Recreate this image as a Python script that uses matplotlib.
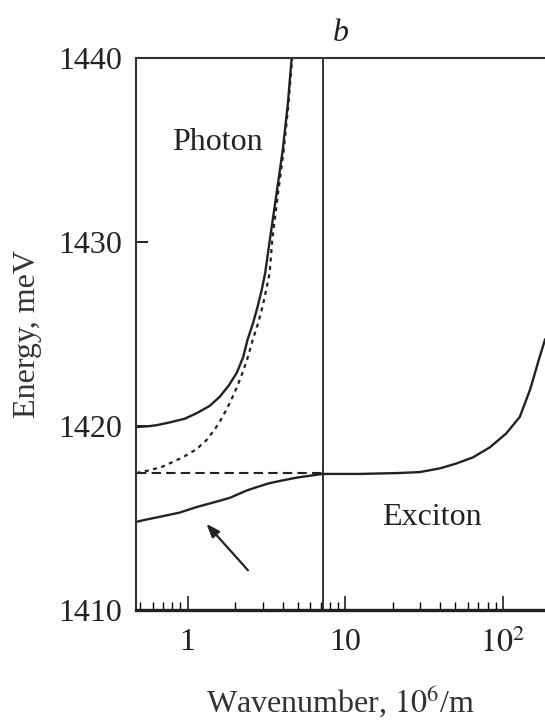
import matplotlib
matplotlib.use("Agg")
import matplotlib.pyplot as plt
from matplotlib.ticker import LogLocator, NullFormatter, FixedLocator

plt.rcParams['font.family'] = ['Liberation Serif', 'DejaVu Serif']
plt.rcParams['mathtext.fontset'] = 'stix'

# upper polariton branch (solid)
upper_k = [0.474, 0.574, 0.636, 0.769, 0.957, 1.14, 1.38, 1.60, 1.82, 2.05, 2.25, 2.40,
           2.60, 2.78, 2.95, 3.10, 3.32, 3.65, 4.01, 4.32, 4.57]
upper_e = [1419.95, 1420.0, 1420.05, 1420.2, 1420.4, 1420.7, 1421.1, 1421.6, 1422.2, 1422.9,
           1423.75, 1424.7, 1425.6, 1426.5, 1427.4, 1428.3, 1430.1, 1432.55, 1435.0, 1437.5, 1440.0]

# bare photon (dotted)
photon_k = [0.474, 0.574, 0.694, 0.93, 1.14, 1.32, 1.48, 1.64, 1.85, 2.05, 2.23, 2.41,
            2.59, 2.80, 2.99, 3.31, 3.44, 3.73, 4.07, 4.36, 4.60]
photon_e = [1417.45, 1417.6, 1417.8, 1418.3, 1418.75, 1419.25, 1419.8, 1420.4, 1421.25, 1422.1,
            1422.9, 1423.75, 1424.7, 1425.6, 1426.5, 1428.3, 1430.1, 1432.55, 1435.0, 1437.5, 1440.0]

# lower polariton / exciton branch (solid)
lower_k = [0.474, 0.533, 0.69, 0.89, 1.14, 1.46, 1.85, 2.37, 2.78, 3.31, 4.01, 4.92, 5.95,
           7.2, 12.3, 22, 29.7, 39.7, 50, 64.6, 82.8, 105, 128, 149, 171, 185]
lower_e = [1414.8, 1414.9, 1415.1, 1415.3, 1415.6, 1415.85, 1416.1, 1416.5, 1416.7, 1416.9,
           1417.05, 1417.2, 1417.3, 1417.4, 1417.4, 1417.45, 1417.5, 1417.7, 1417.95, 1418.3,
           1418.85, 1419.6, 1420.5, 1422.0, 1423.75, 1424.7]

exciton_level = 1417.45
crossing_k = 7.2

xticks = [1, 10, 100]
xticklabels = ['1', '10', '$10^2$']
yticks = [1410, 1420, 1430, 1440]

fig = plt.figure(figsize=(5.45, 7.22), dpi=100)
ax = fig.add_axes([0.2495, 0.155, 0.7505, 0.7645])

ax.plot(upper_k, upper_e, color='#222222', lw=1.7, solid_joinstyle='round')
ax.plot(photon_k, photon_e, color='#222222', lw=1.6, linestyle=(0, (1.8, 2.0)))
ax.plot(lower_k, lower_e, color='#222222', lw=1.7, solid_joinstyle='round')
ax.plot([0.474, crossing_k], [exciton_level, exciton_level], color='#222222', lw=1.5,
        linestyle=(0, (4.5, 2.5)))
ax.axvline(crossing_k, color='#222222', lw=1.3)

ax.annotate('', xy=(1.28, 1414.8), xytext=(2.48, 1412.05),
            arrowprops=dict(arrowstyle='-|>,head_length=0.8,head_width=0.3',
                            color='#222222', lw=1.6))

ax.text(1.55, 1435.4, 'Photon', fontsize=23, ha='center', va='center', color='#222222')
ax.text(35.4, 1415.05, 'Exciton', fontsize=23, ha='center', va='center', color='#222222')

ax.set_xscale('log')
ax.set_xlim(0.47, 185)
ax.set_ylim(1410, 1440)

ax.xaxis.set_major_locator(FixedLocator(xticks))
ax.set_xticklabels(xticklabels)
ax.xaxis.set_minor_locator(LogLocator(base=10, subs=range(2, 10)))
ax.xaxis.set_minor_formatter(NullFormatter())
ax.set_yticks(yticks)
ax.set_yticklabels([str(v) for v in yticks])

ax.tick_params(axis='x', which='major', direction='in', length=10, width=1.2,
               labelsize=23, pad=13, colors='#222222')
ax.tick_params(axis='x', which='minor', direction='in', length=5.5, width=1.0)
ax.tick_params(axis='y', which='major', direction='in', length=8.5, width=1.4,
               labelsize=23, pad=10, colors='#222222')

for s in ['left', 'top']:
    ax.spines[s].set_linewidth(1.5)
    ax.spines[s].set_color('#333333')
ax.spines['bottom'].set_linewidth(2.4)
ax.spines['bottom'].set_color('#222222')
ax.spines['right'].set_visible(False)

ax.set_xlabel('Wavenumber, $10^6$/m', fontsize=23, labelpad=18, color='#333333')
ax.set_ylabel('Energy, meV', fontsize=23, labelpad=12, color='#333333')
ax.set_title('b', fontsize=23, style='italic', pad=12, color='#222222')

fig.savefig('out.png', dpi=100)
